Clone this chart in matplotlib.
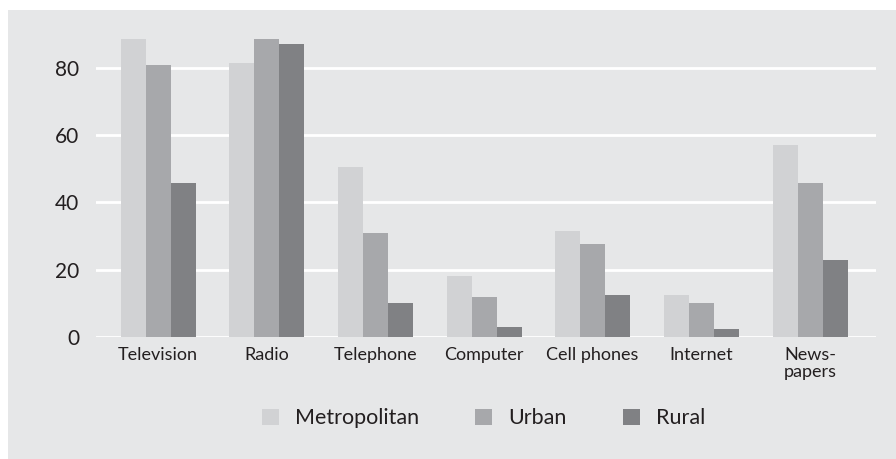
import matplotlib
matplotlib.use("Agg")
import matplotlib.pyplot as plt
import numpy as np
from matplotlib.patches import Rectangle

categories = ["Television", "Radio", "Telephone", "Computer", "Cell phones", "Internet", "News-\npapers"]
series_names = ["Metropolitan", "Urban", "Rural"]
metropolitan = [88.4, 81.3, 50.4, 18.1, 31.5, 12.5, 57.0]
urban = [80.7, 88.4, 30.9, 11.9, 27.6, 10.1, 45.7]
rural = [45.7, 87.0, 10.1, 3.0, 12.5, 2.4, 22.8]
yticks = [0, 20, 40, 60, 80]

colors = ["#d1d2d4", "#a7a8ab", "#808184"]
bg = "#e6e7e8"
text_color = "#231f20"

plt.rcParams['font.family'] = ['Lato', 'DejaVu Sans']

W, H = 896, 459
fig = plt.figure(figsize=(W / 100, H / 100), dpi=100)
fig.patch.set_facecolor("white")
fig.add_artist(Rectangle((8 / W, 0), 1 - 8 / W, (H - 10) / H, transform=fig.transFigure,
                         facecolor=bg, edgecolor="none", zorder=0))

ax_left, ax_right = 96, 876
y0_px, ytop_px = 337, 34
ax = fig.add_axes([ax_left / W, (H - y0_px) / H, (ax_right - ax_left) / W, (y0_px - ytop_px) / H])
ax.set_facecolor("none")

x = np.arange(len(categories))
spacing_px = (810 - 158) / 6
bw = 25 / spacing_px
for i, (vals, c, name) in enumerate(zip([metropolitan, urban, rural], colors, series_names)):
    ax.bar(x + (i - 1) * bw, vals, width=bw, color=c, edgecolor="none", label=name, zorder=3)

ax.set_xlim(-(158 - ax_left) / spacing_px, 6 + (ax_right - 810) / spacing_px)
ax.set_ylim(0, 90)
ax.set_yticks(yticks)
ax.set_yticklabels([str(v) for v in yticks])
ax.yaxis.grid(True, color="white", linewidth=2.0, zorder=1)
ax.set_axisbelow(True)
ax.set_xticks(x)
ax.set_xticklabels(categories, linespacing=1.1)
ax.tick_params(axis="x", length=0, pad=7, labelsize=13, labelcolor=text_color)
ax.tick_params(axis="y", length=0, pad=12, labelsize=15, labelcolor=text_color)
for s in ax.spines.values():
    s.set_visible(False)

leg = fig.legend(loc="center", bbox_to_anchor=(483.5 / W, (H - 418.5) / H), ncol=3,
                 frameon=False, fontsize=15.5, handlelength=0.8, handleheight=0.8,
                 handletextpad=0.75, columnspacing=2.6, labelcolor=text_color)

fig.savefig("out.png", dpi=100)
